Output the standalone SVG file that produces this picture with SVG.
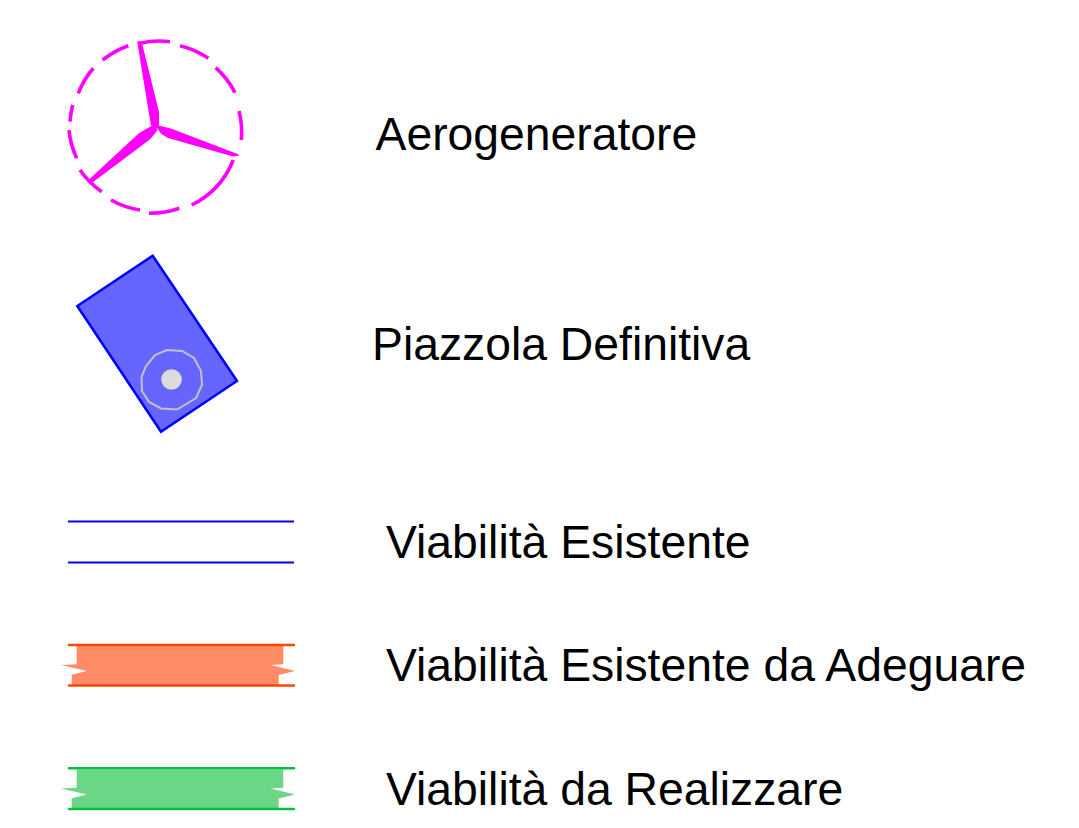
<svg xmlns="http://www.w3.org/2000/svg" width="1079" height="828" viewBox="0 0 1079 828">
<defs>
<style>
text{font-family:"Liberation Sans",Arial,sans-serif;font-size:46.300px;fill:#000}
.dash{fill:none;stroke:#ff00ff;stroke-width:3.600}
.blade{fill:#ff00ff;stroke:#ff00ff;stroke-width:1.500;stroke-linejoin:round}
.pad{fill:#6666ff;stroke:#0000ff;stroke-width:2.500}
.ring{fill:none;stroke:#c0c0c0;stroke-width:2}
.exist{stroke:#0000ff;stroke-width:2;fill:none}
.adj{stroke:#ff4500;stroke-width:2.400;stroke-linecap:round}
.adjf{fill:#ff8c66}
.new{stroke:#00c040;stroke-width:2.400;stroke-linecap:round}
.newf{fill:#6bd685}
</style>
<polygon id="roadFill" points="76.7,0 283.3,0 283.3,18.3 270.7,19 295,25 278.7,29 278.7,39 71.7,39 71.7,28.7 86.7,25 61,19 76.7,18.3"/>
</defs>
<g id="aerogeneratore">
<path class="dash" d="M140,43.3A85.5,85.5 0 0 1 170,41.7M180,45.7A85.5,85.5 0 0 1 208.3,58.3M215.7,67.7A85.5,85.5 0 0 1 235,92.7M239,111A85.5,85.5 0 0 1 241.3,140M233.3,160A85.5,85.5 0 0 1 191.7,205M179.3,208.3A85.5,85.5 0 0 1 149,213.3M140,210A85.5,85.5 0 0 1 111,200M101.7,191.7A85.5,85.5 0 0 1 80,170M76.7,158.3A85.5,85.5 0 0 1 69,130M70,121.7A85.5,85.5 0 0 1 72.7,105M78.3,93.3A85.5,85.5 0 0 1 93.3,68.3M102.7,60A85.5,85.5 0 0 1 128.3,45.7"/>
<polygon class="blade" points="138,42 141,42.300 158.300,112.300 158.300,125 156,128.300 151.700,125 150,115"/>
<polygon class="blade" points="156.700,126 170,129 238,155 233.300,155.700 168.300,137.300 161.700,133.300"/>
<polygon class="blade" points="92.700,181.500 90.500,179 140,133.300 151.700,126.700 156.700,130 150,138.300 136.700,148.300"/>
</g>
<text x="375.500" y="150">Aerogeneratore</text>
<g id="piazzola">
<polygon class="pad" points="152.7,255.7 237,381 161,431.7 77.3,306"/>
<polygon class="ring" points="167,350 182,351 194,358 201,371 202,385 196,398 183,406 177,409.500 161,408.500 149,402 142,391 141.500,377 146,366 155,355"/>
<circle cx="171.500" cy="379.500" r="10.300" fill="#dcdcdc"/>
</g>
<text x="372" y="360">Piazzola Definitiva</text>
<g id="viabilita-esistente">
<line class="exist" x1="68" y1="521.500" x2="294" y2="521.500"/>
<line class="exist" x1="68" y1="562.500" x2="294" y2="562.500"/>
</g>
<text x="386" y="558">Viabilità Esistente</text>
<g id="viabilita-adeguare">
<use href="#roadFill" class="adjf" x="0" y="646"/>
<line class="adj" x1="69" y1="645" x2="294" y2="645"/>
<line class="adj" x1="69" y1="685.500" x2="294" y2="685.500"/>
</g>
<text x="386" y="681">Viabilità Esistente da Adeguare</text>
<g id="viabilita-realizzare">
<use href="#roadFill" class="newf" x="0" y="769.500"/>
<line class="new" x1="69" y1="768.300" x2="294" y2="768.300"/>
<line class="new" x1="69" y1="809" x2="294" y2="809"/>
</g>
<text x="386" y="805">Viabilità da Realizzare</text>
</svg>
